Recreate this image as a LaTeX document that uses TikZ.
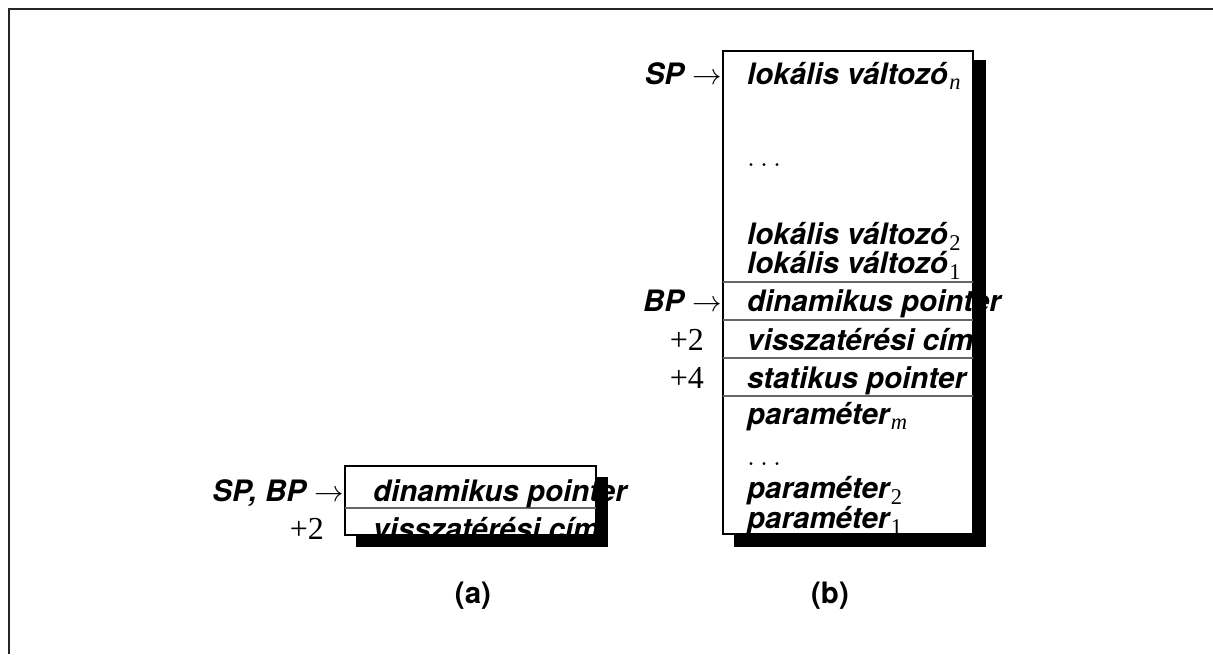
\RequirePackage{fix-cm}
\documentclass[tikz,border=0pt]{standalone}
\usepackage{fontspec}
\newfontfamily\hv{TeX Gyre Heros}
\newfontfamily\tm{Liberation Serif}
\newcommand{\sbi}[1]{\kern1.5pt\raisebox{-5pt}{\fontsize{22.5}{22}\selectfont\tm\mdseries\itshape #1}}
\newcommand{\sbr}[1]{\kern1.5pt\raisebox{-6pt}{\fontsize{22.5}{22}\selectfont\tm\mdseries\upshape #1}}
\tikzset{
  lbl/.style={inner sep=0pt, anchor=base west, font=\fontsize{29.5}{35}\selectfont\hv\bfseries\itshape},
  ptr/.style={inner sep=0pt, anchor=base east, font=\fontsize{29.5}{35}\selectfont\hv\bfseries\itshape},
  off/.style={inner sep=0pt, anchor=base east, font=\fontsize{32}{36}\selectfont\tm},
  captionlbl/.style={inner sep=0pt, anchor=base, font=\fontsize{29.5}{35}\selectfont\hv\bfseries},
  shadowbox/.style={fill=black},
  stackbox/.style={fill=white, draw=black, line width=1.2pt},
  divider/.style={draw=black!60, line width=1.5pt},
  frameline/.style={draw=black!85, line width=2pt}
}
\begin{document}
\begin{tikzpicture}[x=1pt,y=-1pt]
\useasboundingbox (0,0) rectangle (1213,654);
% frame
\draw[frameline] (9,654) -- (9,9) -- (1213,9);

% ---------- (a) ----------
\fill[shadowbox] (356,477) rectangle (608,547);
\draw[stackbox] (345,466) rectangle (596,535);
\draw[divider] (345,508) -- (596,508);
\node[lbl] (a1) at (373,501) {dinamikus pointer};
\node[lbl] (a2) at (373,539) {visszatérési cím};
\node[ptr] (aptr) at (344,501) {SP, BP $\rightarrow$};
\node[off] (aoff) at (324,539) {+2};
\node[captionlbl] (acap) at (473,603) {(a)};

% ---------- (b) ----------
\fill[shadowbox] (734,60) rectangle (986,547);
\draw[stackbox] (723,51) rectangle (973,534);
\draw[divider] (723,282) -- (973,282);
\draw[divider] (723,320) -- (973,320);
\draw[divider] (723,358) -- (973,358);
\draw[divider] (723,396) -- (973,396);
\node[lbl] (b1) at (747,84) {lokális változó\sbi{n}};
\node[lbl] (b2) at (747,166) {$\ldots$};
\node[lbl] (b3) at (747,244) {lokális változó\sbr{2}};
\node[lbl] (b4) at (747,273) {lokális változó\sbr{1}};
\node[lbl] (b5) at (747,311) {dinamikus pointer};
\node[lbl] (b6) at (747,350) {visszatérési cím};
\node[lbl] (b7) at (747,388) {statikus pointer};
\node[lbl] (b8) at (747,424) {paraméter\sbi{m}};
\node[lbl] (b9) at (747,465) {$\ldots$};
\node[lbl] (b10) at (747,498) {paraméter\sbr{2}};
\node[lbl] (b11) at (747,528) {paraméter\sbr{1}};
\node[ptr] (bsp) at (722,84) {SP $\rightarrow$};
\node[ptr] (bbp) at (722,311) {BP $\rightarrow$};
\node[off] (bo2) at (704,350) {+2};
\node[off] (bo4) at (704,388) {+4};
\node[captionlbl] (bcap) at (830,603) {(b)};
\end{tikzpicture}
\end{document}
